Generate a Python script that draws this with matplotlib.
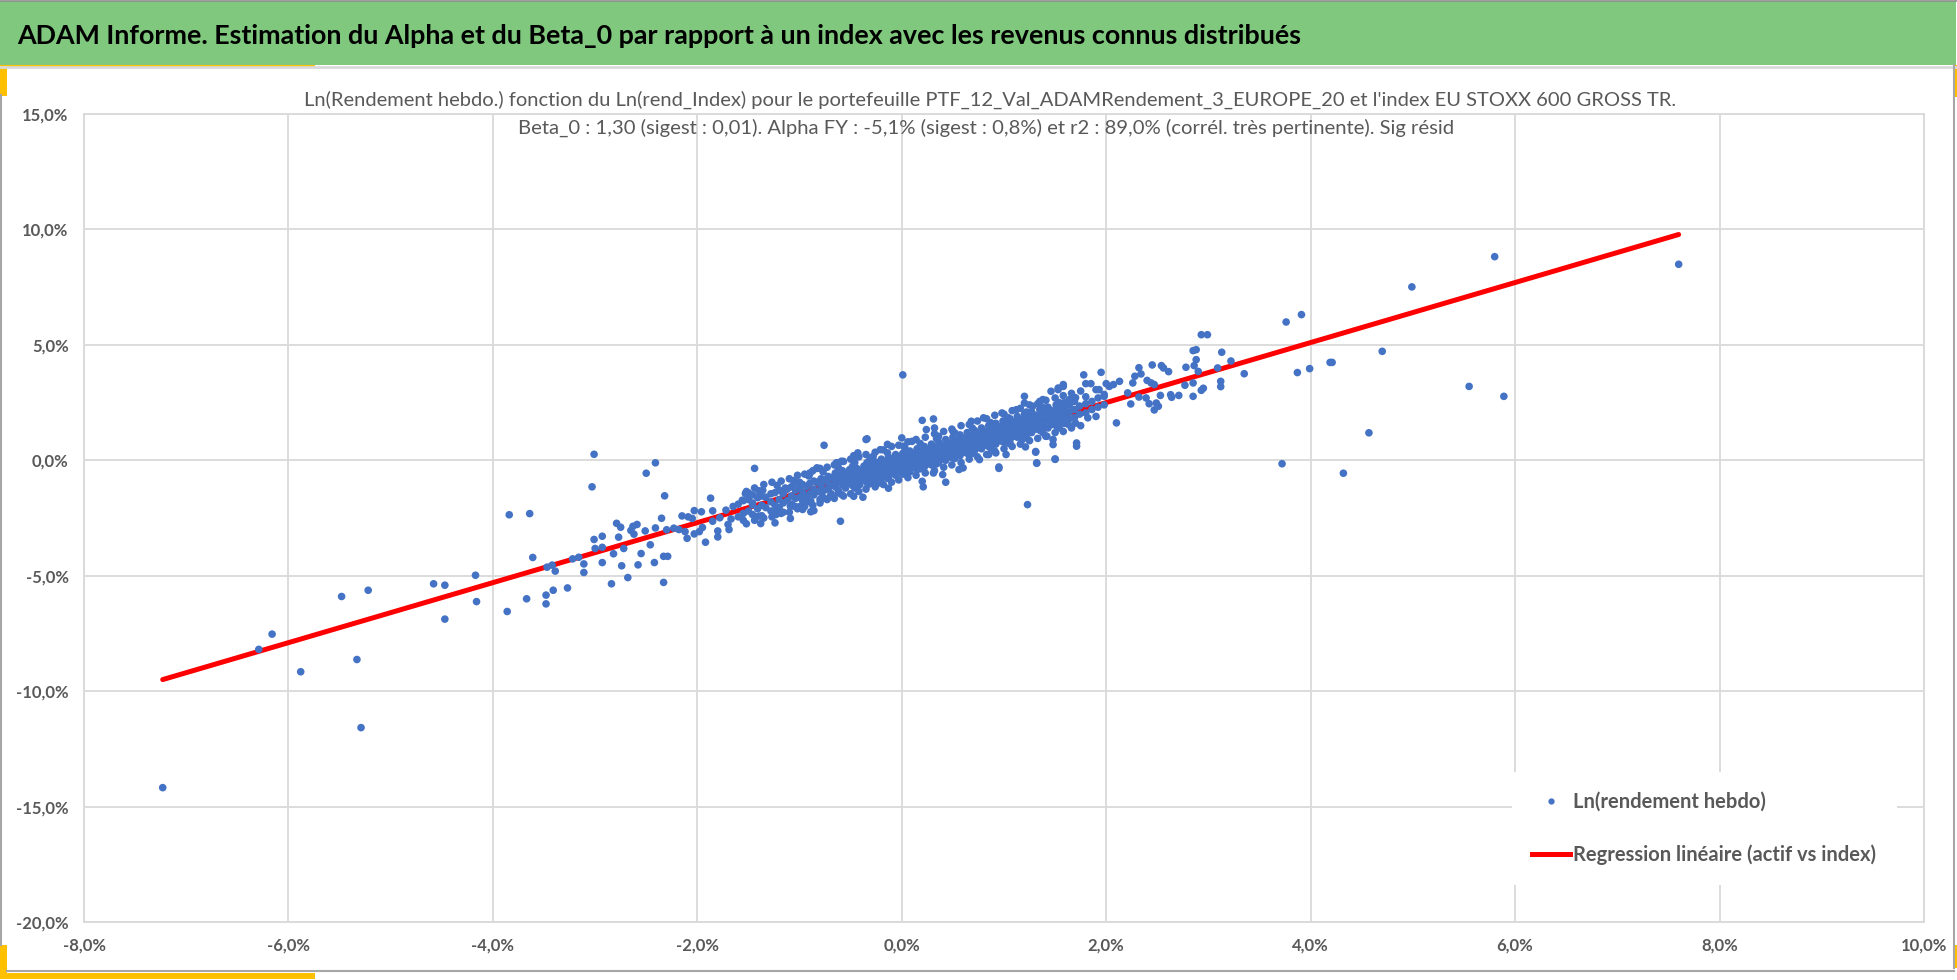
import matplotlib
matplotlib.use("Agg")
import matplotlib.pyplot as plt
from matplotlib.patches import Rectangle
from matplotlib.lines import Line2D
from matplotlib.ticker import FuncFormatter, MultipleLocator

W, H = 1958, 980

header = ("ADAM Informe. Estimation du Alpha et du Beta_0 par rapport à un index "
          "avec les revenus connus distribués")
subtitle_1 = ("Ln(Rendement hebdo.) fonction du Ln(rend_Index) pour le portefeuille "
              "PTF_12_Val_ADAMRendement_3_EUROPE_20 et l'index EU STOXX 600 GROSS TR.")
subtitle_2 = ("Beta_0 : 1,30 (sigest : 0,01). Alpha FY : -5,1% (sigest : 0,8%) et r2 : "
              "89,0% (corrél. très pertinente). Sig résid")
label_points = "Ln(rendement hebdo)"
label_line = "Regression linéaire (actif vs index)"

# regression (weekly, in %)
beta = 1.30
alpha_w = -0.10

# points (x = index %, y = portfolio %), scattered ones
outer = [
    (-7.23, -14.18), (-6.29, -8.19), (-6.16, -7.53), (-5.88, -9.16), (-5.48, -5.90), (-5.22, -5.63),
    (-5.33, -8.63), (-5.29, -11.58), (-4.58, -5.35), (-4.47, -5.41), (-4.47, -6.88), (-4.17, -4.98),
    (-4.16, -6.12), (-3.86, -6.55), (-3.67, -6.00), (-3.84, -2.36), (-3.64, -2.31), (-3.61, -4.21),
    (-3.48, -5.84), (-3.48, -6.22), (-3.41, -5.63), (-3.27, -5.53), (-3.47, -4.63), (-3.42, -4.54),
    (-3.39, -4.80), (-3.22, -4.27), (-3.16, -4.20), (-3.11, -4.49), (-3.11, -4.86), (-3.01, -3.43),
    (-3.00, -3.82), (-2.93, -3.29), (-2.93, -3.77), (-2.93, -4.43), (-2.84, -5.35), (-2.82, -4.05),
    (-2.79, -2.73), (-2.77, -3.33), (-2.75, -2.90), (-2.74, -4.57), (-2.72, -3.82), (-2.68, -5.08),
    (-2.65, -3.04), (-2.63, -2.86), (-2.62, -3.20), (-2.59, -2.78), (-2.58, -4.53), (-2.55, -4.04),
    (-2.51, -3.06), (-2.46, -3.66), (-2.42, -4.43), (-2.41, -2.93), (-2.33, -4.16), (-2.29, -4.16),
    (-2.33, -5.29), (-2.35, -2.51), (-2.32, -1.54), (-2.50, -0.56), (-2.41, -0.11), (-3.01, 0.26),
    (-3.03, -1.15), (-2.30, -3.01), (-2.23, -2.94), (-2.18, -3.00), (-2.15, -2.41), (-2.12, -3.09),
    (-2.09, -2.45), (-2.10, -3.38), (-2.05, -2.52), (-2.03, -2.18), (-2.03, -3.19), (-1.98, -3.09),
    (-1.96, -2.23), (-1.95, -2.91), (-1.92, -3.55), (-1.87, -1.64), (-1.85, -2.19), (-1.85, -2.64),
    (-1.80, -3.06), (-1.80, -3.32), (-1.78, -2.49), (-1.72, -2.16), (-1.70, -2.78), (-1.69, -3.00),
    (-1.67, -2.54), (-1.65, -2.00), (-1.56, -1.73), (-1.53, -1.44), (-1.50, -1.41), (-1.44, -0.35),
    (-1.46, -1.93), (-1.38, -2.74), (-1.36, -1.30), (-1.24, -2.71), (-1.23, -2.35), (-1.09, -2.52),
    (-0.97, -2.13), (-0.89, -2.23), (-0.86, -2.18), (-0.76, 0.65), (-0.60, -2.64), (-0.83, -0.33),
    (-0.34, 0.93), (-0.43, 0.32), (-0.64, -0.11), (-0.90, -0.58),
    (0.01, 3.70), (0.20, 1.73), (0.31, 1.79), (-0.35, 0.90), (1.23, -1.92), (0.95, -0.35),
    (1.32, -0.13), (1.50, 0.04), (1.20, 2.77), (0.43, -0.95), (0.21, -1.15), (-0.13, -1.21),
    (0.00, 0.97), (-0.83, -0.35), (-0.90, -0.55), (-0.59, -0.04), (-0.63, -0.11), (-0.47, 0.20),
    (-0.14, 0.69), (-0.21, 0.46), (-0.28, 0.17), (-0.22, -0.98), (-0.33, -1.05), (-0.38, -1.60),
    (-0.47, -1.56), (-0.59, -1.48), (-0.70, -1.56), (-0.80, -1.70), (-0.89, -1.77), (0.20, -0.91),
    (0.31, -0.55), (0.40, -0.62), (0.56, -0.40), (0.60, -0.33), (0.76, 0.03), (0.85, 0.25),
    (0.92, 0.32), (1.02, 0.25), (1.06, 0.72), (1.18, 0.90), (1.21, 0.58), (1.31, 0.38),
    (1.42, 1.04), (1.48, 0.90), (1.20, 2.48), (1.35, 2.55), (1.38, 2.63), (0.24, 1.33),
    (0.32, 1.40), (0.36, 1.04), (0.50, 1.26), (0.68, 1.69), (0.80, 1.84), (0.98, 2.05),
    (1.12, 2.19), (1.28, 2.34), (0.10, 0.82), (0.02, 0.61), (-1.14, -1.20), (-1.04, -0.98),
    (-0.99, -1.99), (-1.09, -1.99), (-1.17, -1.34),
    (1.58, 3.28), (1.53, 3.06), (1.71, 0.61), (1.50, 0.06), (1.31, 0.35), (1.32, -0.11),
    (0.95, -0.29), (1.48, 0.68), (1.71, 0.75), (1.41, 1.04), (1.82, 1.84), (1.90, 1.90), (1.63, 1.55),
    (3.76, 5.99), (3.91, 6.31), (2.93, 5.44), (2.99, 5.44), (2.85, 4.75), (2.88, 4.79), (3.13, 4.68),
    (3.22, 4.30), (3.35, 3.75), (2.88, 4.36), (2.86, 4.10), (2.90, 3.85), (3.09, 4.00), (2.78, 4.03),
    (3.87, 3.80), (3.99, 3.97), (4.19, 4.24), (4.21, 4.24), (3.12, 3.42), (3.12, 3.19), (2.95, 3.12),
    (2.93, 3.03), (2.85, 2.77), (2.85, 3.35), (2.77, 3.25), (2.71, 2.81), (2.64, 2.73), (2.63, 2.84),
    (2.61, 3.84), (2.56, 4.00), (2.54, 4.10), (2.45, 4.13), (2.32, 4.01), (2.34, 3.74), (2.53, 2.81),
    (2.51, 2.34), (2.47, 2.18), (2.49, 2.48), (2.42, 2.45), (2.44, 3.35), (2.47, 3.28), (2.40, 3.46),
    (2.28, 3.64), (2.26, 3.35), (1.95, 3.81), (1.78, 3.70), (2.10, 1.62), (2.39, 2.70), (2.32, 2.74),
    (2.21, 2.92), (2.24, 2.44), (2.13, 3.42), (2.07, 3.28), (2.03, 3.20), (2.00, 3.32), (1.85, 3.32),
    (1.80, 3.32), (1.90, 3.06), (1.93, 3.06), (1.98, 2.77), (1.58, 3.20), (1.46, 2.99), (1.53, 3.13),
    (1.64, 2.63),
    (7.60, 8.49), (5.80, 8.82), (4.99, 7.51), (4.70, 4.72), (5.55, 3.20), (5.89, 2.77), (4.57, 1.19),
    (4.32, -0.56), (3.72, -0.15),
]

# dense band around the regression line, estimated column by column
core = [
    (-1.60, -2.45), (-1.60, -1.90), (-1.55, -2.30), (-1.55, -1.75), (-1.55, -2.60),
    (-1.50, -2.20), (-1.50, -1.70), (-1.46, -2.35), (-1.46, -1.85), (-1.46, -1.50),
    (-1.41, -2.10), (-1.41, -1.62), (-1.37, -2.40), (-1.37, -1.95), (-1.37, -1.55),
    (-1.33, -2.05), (-1.33, -1.60), (-1.28, -2.20), (-1.28, -1.80), (-1.28, -1.45),
    (-1.24, -1.95), (-1.24, -1.40), (-1.20, -2.05), (-1.20, -1.70), (-1.20, -1.30),
    (-1.16, -1.85), (-1.16, -1.45), (-1.16, -2.25), (-1.12, -1.75), (-1.12, -1.25),
    (-1.08, -1.90), (-1.08, -1.55), (-1.08, -1.15), (-1.04, -1.65), (-1.04, -1.30),
    (-1.04, -2.00), (-1.00, -1.60), (-1.00, -1.20), (-1.00, -0.95), (-0.97, -1.75),
    (-0.97, -1.40), (-0.97, -1.05), (-0.93, -1.55), (-0.93, -1.15), (-0.90, -1.45),
    (-0.90, -1.00), (-0.90, -1.80), (-0.86, -1.50), (-0.86, -1.25), (-0.86, -0.90),
    (-0.83, -1.35), (-0.83, -0.95), (-0.79, -1.40), (-0.79, -1.10), (-0.79, -0.80),
    (-0.79, -1.70), (-0.76, -1.30), (-0.76, -0.85), (-0.72, -1.25), (-0.72, -1.00),
    (-0.72, -0.70), (-0.69, -1.45), (-0.69, -1.10), (-0.69, -0.75), (-0.65, -1.15),
    (-0.65, -0.85), (-0.65, -0.55), (-0.62, -1.30), (-0.62, -0.95), (-0.62, -0.65),
    (-0.58, -1.05), (-0.58, -0.75), (-0.58, -0.45), (-0.55, -1.20), (-0.55, -0.90),
    (-0.55, -0.60), (-0.51, -1.00), (-0.51, -0.70), (-0.51, -0.40), (-0.48, -1.10),
    (-0.48, -0.80), (-0.48, -0.50), (-0.48, -0.25), (-0.44, -0.90), (-0.44, -0.60),
    (-0.44, -0.35), (-0.41, -1.05), (-0.41, -0.75), (-0.41, -0.45), (-0.37, -0.85),
    (-0.37, -0.55), (-0.37, -0.25), (-0.34, -0.95), (-0.34, -0.65), (-0.34, -0.35),
    (-0.34, -0.10), (-0.30, -0.80), (-0.30, -0.50), (-0.30, -0.20), (-0.27, -0.90),
    (-0.27, -0.60), (-0.27, -0.30), (-0.27, -0.05), (-0.23, -0.70), (-0.23, -0.40),
    (-0.23, -0.10), (-0.20, -0.80), (-0.20, -0.50), (-0.20, -0.20), (-0.20, 0.05),
    (-0.16, -0.65), (-0.16, -0.35), (-0.16, -0.05), (-0.13, -0.75), (-0.13, -0.45),
    (-0.13, -0.15), (-0.13, 0.15), (-0.09, -0.55), (-0.09, -0.25), (-0.09, 0.05),
    (-0.06, -0.65), (-0.06, -0.35), (-0.06, -0.05), (-0.06, 0.25), (-0.02, -0.50),
    (-0.02, -0.20), (-0.02, 0.10), (0.01, -0.60), (0.01, -0.30), (0.01, 0.00),
    (0.01, 0.30), (0.05, -0.40), (0.05, -0.10), (0.05, 0.20), (0.08, -0.50),
    (0.08, -0.20), (0.08, 0.10), (0.08, 0.40), (0.12, -0.30), (0.12, 0.00),
    (0.12, 0.30), (0.15, -0.40), (0.15, -0.10), (0.15, 0.20), (0.15, 0.50),
    (0.19, -0.20), (0.19, 0.10), (0.19, 0.40), (0.22, -0.30), (0.22, 0.00),
    (0.22, 0.30), (0.22, 0.60), (0.26, -0.15), (0.26, 0.15), (0.26, 0.45),
    (0.29, -0.20), (0.29, 0.10), (0.29, 0.40), (0.29, 0.70), (0.33, -0.05),
    (0.33, 0.25), (0.33, 0.55), (0.36, -0.10), (0.36, 0.20), (0.36, 0.50),
    (0.36, 0.80), (0.40, 0.05), (0.40, 0.35), (0.40, 0.65), (0.43, 0.00),
    (0.43, 0.30), (0.43, 0.60), (0.43, 0.90), (0.47, 0.15), (0.47, 0.45),
    (0.47, 0.75), (0.50, 0.10), (0.50, 0.40), (0.50, 0.70), (0.50, 1.00),
    (0.54, 0.25), (0.54, 0.55), (0.54, 0.85), (0.57, 0.20), (0.57, 0.50),
    (0.57, 0.80), (0.57, 1.10), (0.61, 0.35), (0.61, 0.65), (0.61, 0.95),
    (0.64, 0.30), (0.64, 0.60), (0.64, 0.90), (0.64, 1.20), (0.68, 0.45),
    (0.68, 0.75), (0.68, 1.05), (0.71, 0.40), (0.71, 0.70), (0.71, 1.00),
    (0.71, 1.30), (0.75, 0.55), (0.75, 0.85), (0.75, 1.15), (0.78, 0.50),
    (0.78, 0.80), (0.78, 1.10), (0.78, 1.40), (0.82, 0.65), (0.82, 0.95),
    (0.82, 1.25), (0.85, 0.60), (0.85, 0.90), (0.85, 1.20), (0.85, 1.50),
    (0.89, 0.75), (0.89, 1.05), (0.89, 1.35), (0.92, 0.70), (0.92, 1.00),
    (0.92, 1.30), (0.92, 1.60), (0.96, 0.85), (0.96, 1.15), (0.96, 1.45),
    (0.99, 0.80), (0.99, 1.10), (0.99, 1.40), (0.99, 1.70), (1.03, 0.95),
    (1.03, 1.25), (1.03, 1.55), (1.06, 0.90), (1.06, 1.20), (1.06, 1.50),
    (1.06, 1.80), (1.10, 1.05), (1.10, 1.35), (1.10, 1.65), (1.13, 1.00),
    (1.13, 1.30), (1.13, 1.60), (1.13, 1.90), (1.17, 1.15), (1.17, 1.45),
    (1.17, 1.75), (1.20, 1.10), (1.20, 1.40), (1.20, 1.70), (1.20, 2.00),
    (1.24, 1.25), (1.24, 1.55), (1.24, 1.85), (1.27, 1.20), (1.27, 1.50),
    (1.27, 1.80), (1.27, 2.10), (1.31, 1.35), (1.31, 1.65), (1.31, 1.95),
    (1.35, 1.30), (1.35, 1.60), (1.35, 1.90), (1.35, 2.20), (1.39, 1.45),
    (1.39, 1.75), (1.39, 2.05), (1.43, 1.40), (1.43, 1.70), (1.43, 2.00),
    (1.43, 2.30), (1.47, 1.55), (1.47, 1.85), (1.47, 2.15), (1.51, 1.50),
    (1.51, 1.80), (1.51, 2.10), (1.51, 2.40), (1.55, 1.65), (1.55, 1.95),
    (1.55, 2.25), (1.59, 1.60), (1.59, 1.90), (1.59, 2.20), (1.59, 2.50),
    (1.64, 1.80), (1.64, 2.10), (1.64, 2.40), (1.69, 1.85), (1.69, 2.20),
    (1.69, 2.55), (1.74, 2.00), (1.74, 2.35), (1.80, 2.05), (1.80, 2.45),
    (1.80, 2.75), (1.86, 2.20), (1.86, 2.55), (1.92, 2.30), (1.92, 2.70),
    (1.98, 2.40), (1.98, 2.85),
]

# points on the upper and lower edges of the band
fringe = [
    (-1.52, -1.35), (-1.52, -2.75), (-1.44, -1.20), (-1.44, -2.60), (-1.35, -1.05), (-1.35, -2.50),
    (-1.27, -0.95), (-1.27, -2.45), (-1.18, -0.90), (-1.18, -2.30), (-1.10, -0.80), (-1.10, -2.25),
    (-1.02, -0.65), (-1.02, -2.10), (-0.95, -0.60), (-0.95, -2.00), (-0.87, -0.45), (-0.87, -1.95),
    (-0.80, -0.35), (-0.80, -1.85), (-0.73, -0.30), (-0.73, -1.70), (-0.66, -0.20), (-0.66, -1.65),
    (-0.57, -0.05), (-0.57, -1.55), (-0.50, 0.05), (-0.50, -1.45), (-0.42, 0.15), (-0.42, -1.35),
    (-0.35, 0.25), (-0.35, -1.25), (-0.26, 0.35), (-0.26, -1.15), (-0.18, 0.45), (-0.18, -1.05),
    (-0.10, 0.60), (-0.10, -0.95), (-0.03, 0.65), (-0.03, -0.85), (0.06, 0.80), (0.06, -0.75),
    (0.14, 0.90), (0.14, -0.65), (0.23, 1.00), (0.23, -0.55), (0.32, 1.15), (0.32, -0.45),
    (0.41, 1.25), (0.41, -0.30), (0.49, 1.35), (0.49, -0.20), (0.58, 1.50), (0.58, -0.10),
    (0.66, 1.55), (0.66, 0.05), (0.74, 1.70), (0.74, 0.15), (0.83, 1.80), (0.83, 0.25),
    (0.91, 1.95), (0.91, 0.40), (1.00, 2.00), (1.00, 0.50), (1.08, 2.15), (1.08, 0.60),
    (1.16, 2.25), (1.16, 0.70), (1.25, 2.40), (1.25, 0.85), (1.33, 2.45), (1.33, 0.95),
    (1.41, 2.60), (1.41, 1.05), (1.50, 2.70), (1.50, 1.20), (1.58, 2.80), (1.58, 1.25),
    (1.66, 2.90), (1.66, 1.40), (1.75, 3.00), (1.75, 1.50),
    (-1.40, -1.32), (-1.40, -2.42), (-1.22, -1.09), (-1.22, -2.19), (-1.06, -0.88), (-1.06, -1.98),
    (-0.91, -0.68), (-0.91, -1.78), (-0.77, -0.50), (-0.77, -1.60), (-0.62, -0.31), (-0.62, -1.41),
    (-0.46, -0.10), (-0.46, -1.20), (-0.31, 0.10), (-0.31, -1.00), (-0.14, 0.32), (-0.14, -0.78),
    (0.03, 0.54), (0.03, -0.56), (0.18, 0.73), (0.18, -0.37), (0.34, 0.94), (0.34, -0.16),
    (0.52, 1.18), (0.52, 0.08), (0.69, 1.40), (0.69, 0.30), (0.87, 1.63), (0.87, 0.53),
    (1.04, 1.85), (1.04, 0.75), (1.22, 2.09), (1.22, 0.99), (1.38, 2.29), (1.38, 1.19),
    (1.54, 2.50), (1.54, 1.40), (1.70, 2.71), (1.70, 1.61),
]

pts = outer + core + fringe
x_vals = [p[0] for p in pts]
y_vals = [p[1] for p in pts]

blue = "#4472C4"
grey_txt = "#595959"
grid_col = "#D9D9D9"

plt.rcParams["font.family"] = ["Lato", "DejaVu Sans"]


def fx(px):
    return px / W


def fy(py):
    return 1 - py / H


fig = plt.figure(figsize=(W / 100, H / 100), dpi=100)
fig.patch.set_facecolor("white")

# frame decorations
fig.add_artist(Rectangle((0, fy(65)), fx(1956), 64 / H, transform=fig.transFigure,
                         facecolor="#7FC87E", edgecolor="none"))
fig.add_artist(Line2D([0, 1], [fy(0.7), fy(0.7)], transform=fig.transFigure, color="#8C8C8C", lw=1.2))
fig.add_artist(Line2D([0, fx(1956)], [fy(67.5), fy(67.5)], transform=fig.transFigure, color="#D9D9D9", lw=2))
fig.add_artist(Line2D([fx(1), fx(1)], [fy(95), fy(945)], transform=fig.transFigure, color="#A6A6A6", lw=1.5))
fig.add_artist(Line2D([fx(1954), fx(1954)], [fy(65), fy(968)], transform=fig.transFigure, color="#A6A6A6", lw=1.5))
fig.add_artist(Line2D([fx(7), fx(1954)], [fy(971), fy(971)], transform=fig.transFigure, color="#A6A6A6", lw=1.5))
for (x0, y0, w, h) in [(0, 65, 315, 3), (0, 65, 7, 31), (0, 945, 7, 34), (0, 973, 315, 6),
                       (1955, 65, 3, 32), (1955, 945, 3, 23)]:
    fig.add_artist(Rectangle((fx(x0), fy(y0 + h)), w / W, h / H, transform=fig.transFigure,
                             facecolor="#FFC000", edgecolor="none"))

fig.text(fx(17), fy(36), header, fontsize=19.4, fontweight="bold", color="black", ha="left", va="center")
fig.text(fx(990), fy(100), subtitle_1, fontsize=14.5, color=grey_txt, ha="center", va="center")
fig.text(fx(986), fy(128), subtitle_2, fontsize=14.6, color=grey_txt, ha="center", va="center")

ax = fig.add_axes([fx(84), fy(922), (1924 - 84) / W, (922 - 114) / H])
ax.set_xlim(-8, 10)
ax.set_ylim(-20, 15)
ax.xaxis.set_major_locator(MultipleLocator(2))
ax.yaxis.set_major_locator(MultipleLocator(5))
pct = FuncFormatter(lambda v, p: f"{v:.1f}%".replace(".", ","))
ax.xaxis.set_major_formatter(pct)
ax.yaxis.set_major_formatter(pct)
ax.grid(True, color=grid_col, lw=1.3)
ax.set_axisbelow(True)
for s in ax.spines.values():
    s.set_color(grid_col)
    s.set_linewidth(1.3)
ax.tick_params(length=0, labelsize=12, labelcolor=grey_txt)
ax.tick_params(axis="y", pad=11)
ax.tick_params(axis="x", pad=11)
for lab in ax.get_xticklabels() + ax.get_yticklabels():
    lab.set_fontweight("bold")

x_lo, x_hi = min(x_vals), max(x_vals)
ax.plot([x_lo, x_hi], [beta * x_lo + alpha_w, beta * x_hi + alpha_w], color="#FF0000", lw=3.6,
        solid_capstyle="round", zorder=2, label=label_line)
ax.scatter(x_vals, y_vals, s=30, color=blue, edgecolors="none", zorder=3, label=label_points)

handles = [Line2D([], [], ls="none", marker="o", ms=3.5, color=blue),
           Line2D([], [], color="#FF0000", lw=3.6)]
leg = fig.legend(handles, [label_points, label_line], loc="upper left",
                 bbox_to_anchor=(fx(1512), fy(772)), frameon=True, fontsize=14.5,
                 handlelength=1.9, handletextpad=0.15, labelspacing=1.6, borderpad=1.0,
                 borderaxespad=0)
leg.get_frame().set_facecolor("white")
leg.get_frame().set_edgecolor("none")
leg.get_frame().set_alpha(1)
for t in leg.get_texts():
    t.set_color(grey_txt)
    t.set_fontweight("bold")

fig.savefig("out.png", dpi=100)
